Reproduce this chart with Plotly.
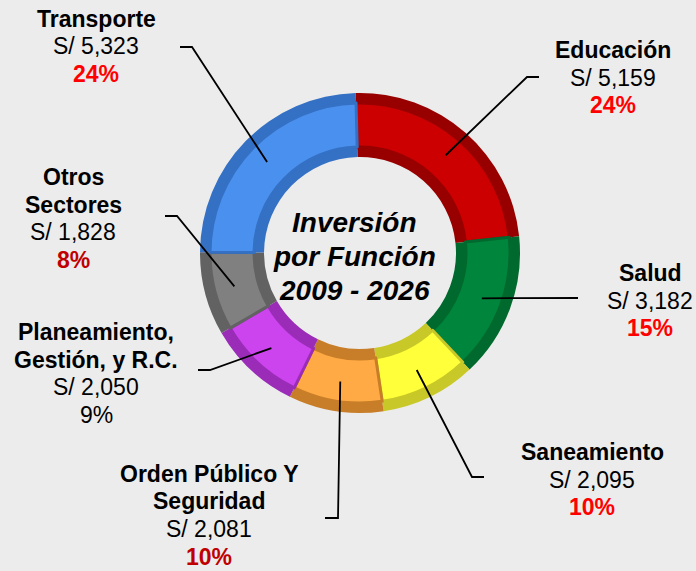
import math
import plotly.graph_objects as go

# ---------------- data ----------------
categories = ["Educación", "Salud", "Saneamiento", "Orden Público Y|Seguridad",
              "Planeamiento,|Gestión, y R.C.", "Otros|Sectores", "Transporte"]
values = [5159, 3182, 2095, 2081, 2050, 1828, 5323]
amount_labels = ["S/ 5,159", "S/ 3,182", "S/ 2,095", "S/ 2,081", "S/ 2,050", "S/ 1,828", "S/ 5,323"]
pct_labels = ["24%", "15%", "10%", "10%", "9%", "8%", "24%"]
center_title = ["Inversión", "por Función", "2009 - 2026"]

# ---------------- styles / layout ----------------
W, H = 696, 571
CX, CY = 360, 253
R_OUT, R_IN = 160, 96
FACE_OUT, FACE_IN = 150, 106
ANCHOR_R = 130
ROT = -1.5
BG = "#ECECEC"
FONT = "Arial, Liberation Sans, sans-serif"
FS = 23
LINE = 27.5

face_colors = ["#CC0000", "#00853C", "#FFFF3A", "#FFAA44", "#CC44EE", "#808080", "#4A90EE"]
edge_colors = ["#980000", "#006A2E", "#C8C828", "#C87E28", "#9A2CB8", "#626262", "#3470C4"]
pct_colors = ["#FF0000", "#FF0000", "#FF0000", "#C00000", "#000000", "#C00000", "#FF0000"]
pct_bold = [True, True, True, True, False, True, True]
# x centre and y of first line (pixels)
label_pos = [(613, 50), (650, 273), (592, 452), (209, 474), (96, 332), (73, 177), (96, 19)]
leader_tail = [[(527, 77), (539, 77)], [(578, 298)], [(472, 477), (484, 477)],
               [(338, 518), (325, 518)], [(210, 370), (198, 370)],
               [(177, 216), (165, 216)], [(192, 47), (180, 47)]]


def px(x, y):
    return x / W, 1 - y / H


def dom(r):
    return dict(x=[(CX - r) / W, (CX + r) / W], y=[1 - (CY + r) / H, 1 - (CY - r) / H])


fig = go.Figure()
fig.add_trace(go.Pie(
    labels=categories, values=values, sort=False, direction="clockwise", rotation=ROT,
    hole=R_IN / R_OUT, domain=dom(R_OUT), textinfo="none", hoverinfo="skip",
    marker=dict(colors=edge_colors, line=dict(width=0)), showlegend=False))
fig.add_trace(go.Pie(
    labels=categories, values=values, sort=False, direction="clockwise", rotation=ROT,
    hole=FACE_IN / FACE_OUT, domain=dom(FACE_OUT), textinfo="none", hoverinfo="skip",
    marker=dict(colors=face_colors, line=dict(width=3, color=edge_colors)), showlegend=False))

total = sum(values)
cum = 0
shapes = []
annotations = []


def add_text(txt, xpix, ypix, size):
    x, y = px(xpix, ypix)
    annotations.append(dict(x=x, y=y, xref="paper", yref="paper", text=txt, showarrow=False,
                            xanchor="center", yanchor="middle", align="center",
                            font=dict(family=FONT, size=size, color="black")))


for i, v in enumerate(values):
    mid = (cum + v / 2) / total * 360 + ROT
    cum += v
    ax = CX + ANCHOR_R * math.sin(math.radians(mid))
    ay = CY - ANCHOR_R * math.cos(math.radians(mid))
    pts = [(ax, ay)] + leader_tail[i]
    path = "M " + " L ".join("%f %f" % px(x, y) for x, y in pts)
    shapes.append(dict(type="path", path=path, xref="paper", yref="paper",
                       line=dict(color="black", width=1.8), layer="above"))
    pct = pct_labels[i]
    if pct_bold[i]:
        pct = "<b>%s</b>" % pct
    lines = ["<b>%s</b>" % s for s in categories[i].split("|")]
    lines.append(amount_labels[i])
    lines.append("<span style='color:%s'>%s</span>" % (pct_colors[i], pct))
    lx, ly = label_pos[i]
    for k, t in enumerate(lines):
        add_text(t, lx, ly + k * LINE, FS)

for k, t in enumerate(center_title):
    add_text("<b><i>%s</i></b>" % t, 354, 222 + k * 34, 28)

fig.update_layout(width=W, height=H, margin=dict(l=0, r=0, t=0, b=0),
                  paper_bgcolor=BG, plot_bgcolor=BG, shapes=shapes,
                  annotations=annotations, showlegend=False)
fig.write_html("out.html", config={"displayModeBar": False},
               post_script="document.body.style.margin='0';")
